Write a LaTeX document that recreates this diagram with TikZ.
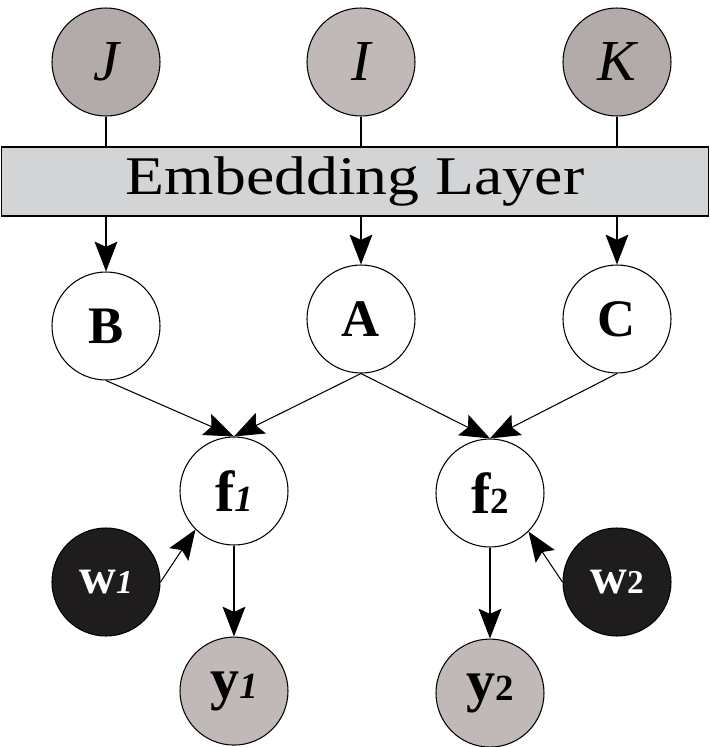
\documentclass[tikz,border=0pt]{standalone}
\usepackage{fontspec}
\setmainfont{Liberation Serif}
\usepackage{tikz}
\usetikzlibrary{positioning,calc,arrows.meta}

\definecolor{inpdark}{HTML}{B3ABA9}
\definecolor{inplight}{HTML}{C1B9B7}
\definecolor{embgray}{HTML}{D3D4D6}
\definecolor{parblack}{HTML}{1E1C1C}

\newcommand{\nidx}[1]{{\fontsize{21}{21}\selectfont #1}}
\newcommand{\widx}[1]{{\fontsize{19}{19}\selectfont #1}}

\begin{document}
\begin{tikzpicture}[
        latent/.style={circle, draw=black, line width=0.6pt, minimum size=2.16cm, inner sep=0pt, fill=white, font=\fontsize{30}{32}\selectfont\bfseries},
        inpdk/.style={latent, fill=inpdark, font=\fontsize{33}{35}\selectfont\itshape},
        inplt/.style={latent, fill=inplight, font=\fontsize{33}{35}\selectfont\itshape},
        factor/.style={latent, font=\fontsize{33}{35}\selectfont\bfseries},
        weight/.style={latent, fill=parblack, text=white, font=\fontsize{29}{31}\selectfont\bfseries},
        output/.style={latent, fill=inplight, font=\fontsize{33}{35}\selectfont\bfseries},
        layer/.style={rectangle, draw=black, line width=0.6pt, fill=embgray, minimum width=14.14cm, minimum height=1.38cm, inner sep=0pt, font=\fontsize{31}{33}\selectfont},
        arrow/.style={-{Stealth[length=17pt, width=13pt, inset=3pt]}, line width=0.6pt},
        line/.style={line width=0.6pt},
      ]
      \useasboundingbox (0,0) rectangle (14.2,-14.94);
      % inputs
      \node [inpdk] (J) at (2.12,-1.24) {J};
      \node [inplt] (I) at (7.22,-1.24) {I};
      \node [inpdk] (K) at (12.34,-1.24) {K};
      \node [layer] (embed) at (7.1,-3.63) {\scalebox{1.17}[1]{Embedding Layer}};
      % embeddings
      \node [latent] (B) at (2.12,-6.52) {B};
      \node [latent] (A) at (7.22,-6.38) {A};
      \node [latent] (C) at (12.34,-6.38) {C};
      % factors and outputs
      \node [factor] (f1) at (4.68,-9.82) {f\nidx{\itshape 1}};
      \node [factor] (f2) at (9.8,-9.86) {f\nidx{2}};
      \node [weight] (w1) at (2.12,-11.64) {w\widx{\itshape 1}};
      \node [weight] (w2) at (12.34,-11.64) {w\widx{2}};
      \node [output, below=1.82cm of f1] (y1) {y\nidx{\itshape 1}};
      \node [output, below=1.82cm of f2] (y2) {y\nidx{2}};
      \draw [line] (J.south) -- (J.south |- embed.north);
      \draw [line] (I.south) -- (I.south |- embed.north);
      \draw [line] (K.south) -- (K.south |- embed.north);
      \draw [arrow] (embed.south -| B) -- (B.north);
      \draw [arrow] (embed.south -| A) -- (A.north);
      \draw [arrow] (embed.south -| C) -- (C.north);
      \draw [arrow] (B.south) -- (f1.north);
      \draw [arrow] (A.south) -- (f1.north);
      \draw [arrow] (A.south) -- (f2.north);
      \draw [arrow] (C.south) -- (f2.north);
      \draw [arrow] (w1.east) -- (f1.225);
      \draw [arrow] (w2.west) -- (f2.315);
      \draw [arrow] (f1) -- (y1);
      \draw [arrow] (f2) -- (y2);
    \end{tikzpicture}
\end{document}
